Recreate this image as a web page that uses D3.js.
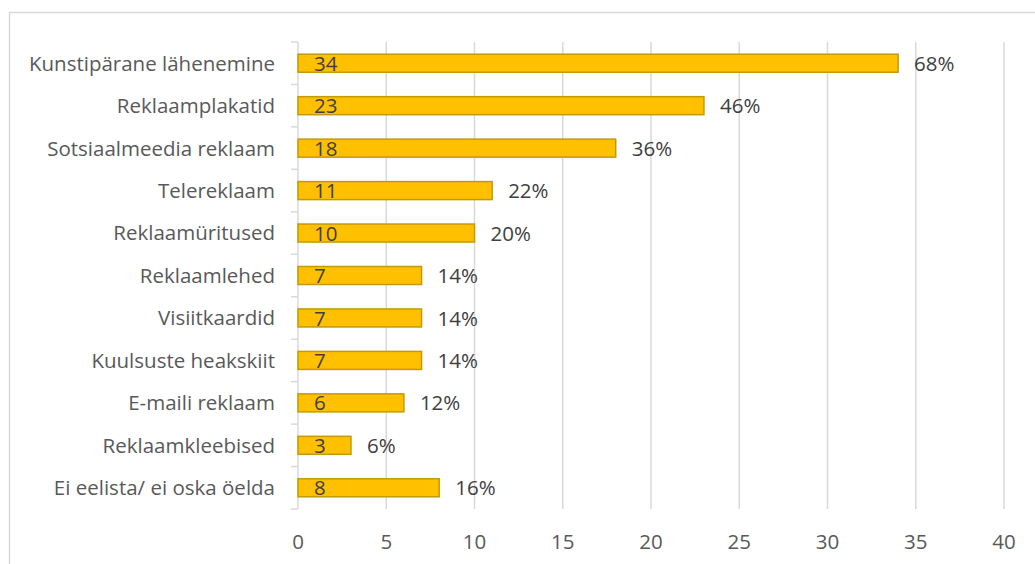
<!DOCTYPE html>
<html>
<head>
<meta charset="utf-8">
<script src="https://cdn.jsdelivr.net/npm/d3@7"></script>
<style>
  body { margin: 0; background: #fff; }
  text { font-family: "Open Sans", Lato, sans-serif; }
</style>
</head>
<body>
<svg id="chart" width="1035" height="564"></svg>
<script>
// data
const categories = [
  "Kunstipärane lähenemine", "Reklaamplakatid", "Sotsiaalmeedia reklaam",
  "Telereklaam", "Reklaamüritused", "Reklaamlehed", "Visiitkaardid",
  "Kuulsuste heakskiit", "E-maili reklaam", "Reklaamkleebised",
  "Ei eelista/ ei oska öelda"
];
const counts = [34, 23, 18, 11, 10, 7, 7, 7, 6, 3, 8];
const percents = ["68%", "46%", "36%", "22%", "20%", "14%", "14%", "14%", "12%", "6%", "16%"];
const xTicks = [0, 5, 10, 15, 20, 25, 30, 35, 40];

const svg = d3.select("#chart");
const plotL = 298, plotR = 1004, plotT = 42, plotB = 509;
const fs = 20.5;

// outer chart border (runs off the right/bottom edge)
svg.append("rect")
  .attr("x", 9.5).attr("y", 12.5)
  .attr("width", 1040).attr("height", 570)
  .attr("fill", "none").attr("stroke", "#d9d9d9").attr("stroke-width", 1.5);

const x = d3.scaleLinear().domain([0, 40]).range([plotL, plotR]);
const y = d3.scaleBand().domain(categories).range([plotT, plotB]).paddingInner(0.576).paddingOuter(0.288);

// gridlines
svg.append("g").selectAll("line")
  .data(xTicks.slice(1))
  .join("line")
  .attr("x1", d => x(d)).attr("x2", d => x(d))
  .attr("y1", plotT).attr("y2", plotB)
  .attr("stroke", "#d9d9d9").attr("stroke-width", 1.5);

// y axis line + tick marks between categories
const step = (plotB - plotT) / categories.length;
svg.append("line")
  .attr("x1", plotL).attr("x2", plotL).attr("y1", plotT).attr("y2", plotB)
  .attr("stroke", "#d9d9d9").attr("stroke-width", 1.5);
svg.append("g").selectAll("line")
  .data(d3.range(categories.length + 1))
  .join("line")
  .attr("x1", plotL - 7).attr("x2", plotL)
  .attr("y1", i => plotT + i * step).attr("y2", i => plotT + i * step)
  .attr("stroke", "#d9d9d9").attr("stroke-width", 1.5);

// category labels
svg.append("g").selectAll("text")
  .data(categories)
  .join("text")
  .attr("x", 275)
  .attr("y", d => y(d) + y.bandwidth() / 2)
  .attr("dy", "0.36em")
  .attr("text-anchor", "end")
  .attr("fill", "#595959")
  .attr("font-size", fs)
  .text(d => d);

// bars
svg.append("g").selectAll("rect")
  .data(counts)
  .join("rect")
  .attr("x", x(0))
  .attr("y", (d, i) => y(categories[i]))
  .attr("width", d => x(d) - x(0))
  .attr("height", y.bandwidth())
  .attr("fill", "#ffc000")
  .attr("stroke", "#c49a06")
  .attr("stroke-width", 1.5);

// count labels inside bars
svg.append("g").selectAll("text")
  .data(counts)
  .join("text")
  .attr("x", x(0) + 16)
  .attr("y", (d, i) => y(categories[i]) + y.bandwidth() / 2)
  .attr("dy", "0.37em")
  .attr("fill", "#404040")
  .attr("font-size", fs)
  .text(d => d);

// percent labels past bar ends
svg.append("g").selectAll("text")
  .data(counts)
  .join("text")
  .attr("x", d => x(d) + 16)
  .attr("y", (d, i) => y(categories[i]) + y.bandwidth() / 2)
  .attr("dy", "0.37em")
  .attr("fill", "#404040")
  .attr("font-size", fs)
  .text((d, i) => percents[i]);

// x axis tick labels
svg.append("g").selectAll("text")
  .data(xTicks)
  .join("text")
  .attr("x", d => x(d))
  .attr("y", 542)
  .attr("dy", "0.36em")
  .attr("text-anchor", "middle")
  .attr("fill", "#595959")
  .attr("font-size", fs)
  .text(d => d);
</script>
</body>
</html>
